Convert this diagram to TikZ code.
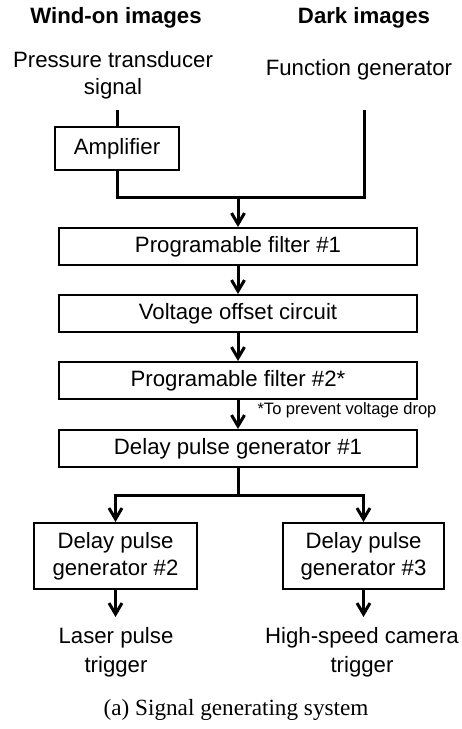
\documentclass[tikz,border=0pt]{standalone}
\usepackage{fontspec}
\setmainfont{Liberation Sans}
\newfontfamily\serifcap{Liberation Serif}
\usetikzlibrary{arrows.meta,positioning}

\begin{document}
\begin{tikzpicture}[x=0.5pt, y=-0.5pt,
    every node/.style={font=\fontsize{11.1}{13.5}\selectfont, align=center, inner sep=0pt},
    block/.style={draw, line width=1pt, minimum height=18.5pt},
    wire/.style={line width=1.5pt},
    flow/.style={line width=1.5pt, -{Straight Barb[length=5.5pt,width=6.5pt]}}]

    \useasboundingbox (0,0) rectangle (461,729);

    % ---------------- Headings ----------------
    \node[font=\fontsize{11.1}{13.5}\selectfont\bfseries] (windon) at (116,18) {Wind-on images};
    \node[font=\fontsize{11.1}{13.5}\selectfont\bfseries] (dark) at (364,18) {Dark images};

    % ---------------- Sources ----------------
    \node (transducer) at (113,75) {Pressure transducer\\signal};
    \node (funcgen) at (359,70) {Function generator};
    \node[block, minimum width=62pt, minimum height=21.5pt] (amp) at (117,148.5) {Amplifier};
    \coordinate (ltop) at (117,110);
    \coordinate (rtop) at (364,110);
    \coordinate (join) at (238,197);

    \draw[wire] (ltop) -- (amp.north);
    \draw[wire] (amp.south) |- (join) -| (rtop);

    % ---------------- Main chain ----------------
    \foreach \name/\y/\txt in {filt1/246.5/Programable filter \#1,
                               offset/313.5/Voltage offset circuit,
                               filt2/380.5/Programable filter \#2*,
                               dpg1/448.5/Delay pulse generator \#1}
        \node[block, minimum width=179pt] (\name) at (238,\y) {\txt};

    \draw[flow] (join) -- (filt1);
    \foreach \a/\b in {filt1/offset, offset/filt2, filt2/dpg1}
        \draw[flow] (\a) -- (\b);

    \node[font=\fontsize{8.25}{10}\selectfont] (note) at (347,410) {*To prevent voltage drop};

    % ---------------- Branches ----------------
    \coordinate (split) at (238,495);
    \node[block, minimum width=81.5pt, minimum height=33pt] (dpg2) at (115.5,556) {Delay pulse\\generator \#2};
    \node[block, minimum width=80.5pt, minimum height=33pt] (dpg3) at (363.5,556) {Delay pulse\\generator \#3};

    \draw[wire] (dpg1) -- (split);
    \draw[flow] (split) -| (dpg2);
    \draw[flow] (split) -| (dpg3);

    % ---------------- Outputs ----------------
    \coordinate (lbot) at (115.5,617);
    \coordinate (rbot) at (363.5,617);
    \draw[flow] (dpg2) -- (lbot);
    \draw[flow] (dpg3) -- (rbot);

    \node[font=\fontsize{11.1}{14.5}\selectfont] (laser) at (116,652.5) {Laser pulse\\trigger};
    \node[font=\fontsize{11.1}{14.5}\selectfont] (camera) at (362,652.5) {High-speed camera\\trigger};

    % ---------------- Caption ----------------
    \node[font=\serifcap\fontsize{11.6}{14}\selectfont] (caption) at (236,710) {(a) Signal generating system};

\end{tikzpicture}
\end{document}
